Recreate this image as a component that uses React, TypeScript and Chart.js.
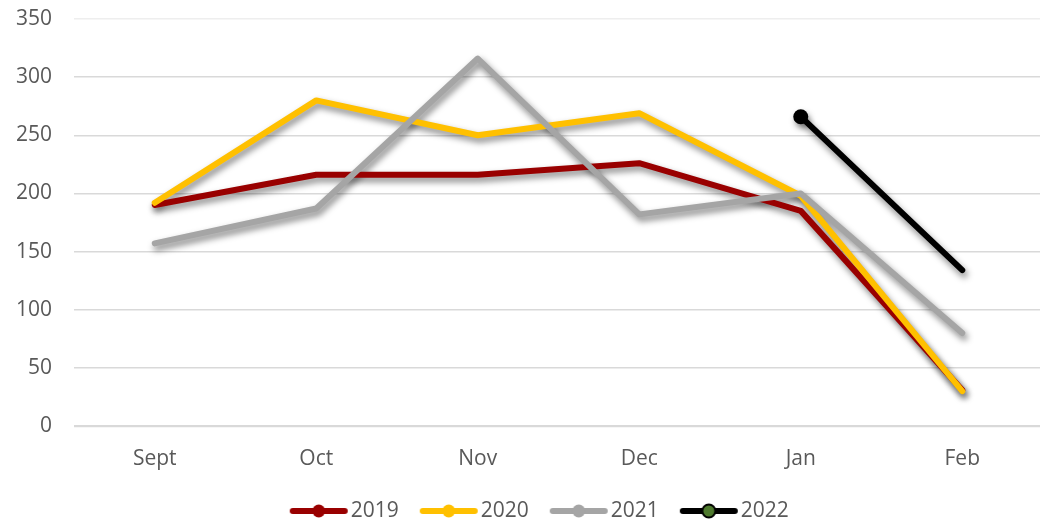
import React, { useEffect, useRef } from "react";
import { Chart, registerables } from "chart.js";

Chart.register(...registerables);

const categories = ["Sept", "Oct", "Nov", "Dec", "Jan", "Feb"];
const series2019 = [190, 216, 216, 226, 185, 31];
const series2020 = [192, 280, 250, 269, 198, 30];
const series2021 = [157, 187, 316, 182, 200, 80];
const series2022 = [null, null, null, null, 266, 134];
const seriesLabels = ["2019", "2020", "2021", "2022"];
const seriesColors = ["#990000", "#FFC000", "#A5A5A5", "#000000"];
const legendMarkerFill = ["#990000", "#FFC000", "#A5A5A5", "#4E7A2E"];
const yMin = 0;
const yMax = 350;
const yStep = 50;

const FONT = "'Open Sans', sans-serif";
const TEXT = "#595959";
const FS = 21;
const LINE_W = 6;

// target layout (canvas is offset 12px to the right inside the page)
const CANVAS_X = 12;
const AREA_TOP = 19;
const AREA_BOTTOM = 426;
const LEGEND_CENTER = 511;
const AXIS_W = 74 - CANVAS_X;
const BOX_W = 71;
const IMG_W = BOX_W + 17;

function makeLegendImage(color: string, fill: string, border: boolean) {
  const c = document.createElement("canvas");
  c.width = IMG_W;
  c.height = 18;
  const x = c.getContext("2d")!;
  const cap = LINE_W / 2;
  const outerEnd = IMG_W - 1;
  const x1 = outerEnd - cap;
  const x0 = outerEnd - 58 + cap;
  x.strokeStyle = color;
  x.lineWidth = LINE_W;
  x.lineCap = "round";
  x.beginPath();
  x.moveTo(x0, 9);
  x.lineTo(x1, 9);
  x.stroke();
  x.beginPath();
  x.arc((x0 + x1) / 2, 9, 6.5, 0, Math.PI * 2);
  x.fillStyle = fill;
  x.fill();
  if (border) {
    x.lineWidth = 2;
    x.strokeStyle = color;
    x.stroke();
  }
  return c;
}

// soft drop shadow under each line, built from the library's own point positions
const shadowPlugin = {
  id: "lineShadow",
  beforeDatasetsDraw(chart: any) {
    const ctx = chart.ctx;
    ctx.save();
    ctx.filter = "blur(3px)";
    ctx.strokeStyle = "rgba(0,0,0,0.42)";
    ctx.fillStyle = "rgba(0,0,0,0.42)";
    ctx.lineWidth = 7;
    ctx.lineCap = "round";
    ctx.lineJoin = "round";
    chart.data.datasets.forEach((ds: any, i: number) => {
      const meta = chart.getDatasetMeta(i);
      if (!meta || meta.hidden) return;
      ctx.beginPath();
      let started = false;
      meta.data.forEach((p: any) => {
        if (!p || p.skip || p.y == null || isNaN(p.y)) {
          started = false;
          return;
        }
        if (!started) {
          ctx.moveTo(p.x + 2, p.y + 4);
          started = true;
        } else {
          ctx.lineTo(p.x + 2, p.y + 4);
        }
      });
      ctx.stroke();
      meta.data.forEach((p: any) => {
        const r = p && p.options ? p.options.radius : 0;
        if (p && !p.skip && r > 0) {
          ctx.beginPath();
          ctx.arc(p.x + 2, p.y + 4, r, 0, Math.PI * 2);
          ctx.fill();
        }
      });
    });
    ctx.restore();
  },
};

export default function App() {
  const ref = useRef<HTMLCanvasElement | null>(null);

  useEffect(() => {
    document.body.style.margin = "0";
    const canvas = ref.current;
    if (!canvas) return;
    const imgs = seriesLabels.map((_, i) =>
      makeLegendImage(seriesColors[i], legendMarkerFill[i], i === 3)
    );
    const all = [series2019, series2020, series2021, series2022];
    const orders = [3, 2, 1, 0];
    const pad = { left: 0, right: 0, top: AREA_TOP, bottom: 10 };
    const fit = { xH: 60 };
    const chart: any = new Chart(canvas, {
      type: "line",
      data: {
        labels: categories,
        datasets: all.map((d, i) => ({
          label: seriesLabels[i],
          data: d,
          borderColor: seriesColors[i],
          backgroundColor: seriesColors[i],
          borderWidth: LINE_W,
          borderCapStyle: "round",
          borderJoinStyle: "round",
          pointRadius: i === 3 ? d.map((v, k) => (k === 4 ? 7.5 : 0)) : 0,
          pointHoverRadius: 0,
          pointBackgroundColor: seriesColors[i],
          pointBorderWidth: 0,
          tension: 0,
          spanGaps: false,
          order: orders[i],
        })) as any,
      },
      options: {
        animation: false,
        responsive: false,
        devicePixelRatio: 1,
        layout: { padding: { ...pad } },
        plugins: {
          tooltip: { enabled: false },
          legend: {
            position: "bottom",
            align: "center",
            labels: {
              usePointStyle: true,
              pointStyleWidth: BOX_W,
              padding: 0.5,
              color: TEXT,
              font: { family: FONT, size: FS },
              generateLabels: () =>
                seriesLabels.map((t, i) => ({
                  text: t,
                  fillStyle: seriesColors[i],
                  strokeStyle: seriesColors[i],
                  lineWidth: 0,
                  pointStyle: imgs[i],
                  hidden: false,
                  datasetIndex: i,
                  fontColor: TEXT,
                })),
            },
          },
        },
        scales: {
          x: {
            offset: true,
            grid: { display: false },
            border: { display: false },
            afterFit: (s: any) => {
              s.height = fit.xH;
            },
            ticks: {
              color: TEXT,
              padding: 12,
              font: { family: FONT, size: FS },
            },
          },
          y: {
            min: yMin,
            max: yMax,
            border: { display: false },
            afterFit: (s: any) => {
              s.width = AXIS_W;
              s.paddingTop = 0;
              s.paddingBottom = 0;
            },
            grid: {
              color: (c: any) => (c.tick && c.tick.value === yMax ? "#EEEEEE" : "#D9D9D9"),
              lineWidth: (c: any) => (c.tick && c.tick.value === 0 ? 2.25 : 1.5),
              drawTicks: false,
            },
            ticks: {
              stepSize: yStep,
              color: TEXT,
              padding: 22,
              font: { family: FONT, size: FS },
            },
          },
        },
      },
      plugins: [shadowPlugin],
    });
    // nudge layout so plot area and legend land where the reference has them
    for (let k = 0; k < 4; k++) {
      const a = chart.chartArea;
      const hb = chart.legend && chart.legend.legendHitBoxes && chart.legend.legendHitBoxes[0];
      const lc = hb ? hb.top + hb.height / 2 : LEGEND_CENTER;
      const dt = a.top - AREA_TOP;
      const e1 = LEGEND_CENTER - lc;
      const e2 = AREA_BOTTOM - a.bottom;
      if (Math.abs(dt) < 0.5 && Math.abs(e1) < 0.5 && Math.abs(e2) < 0.5) break;
      pad.top -= dt;
      pad.bottom = Math.max(0, pad.bottom - e1);
      fit.xH += e1 - e2;
      chart.options.layout.padding = { ...pad };
      chart.update();
    }
    return () => chart.destroy();
  }, []);

  return (
    <div style={{ width: 1040, height: 524, overflow: "hidden", background: "#fff" }}>
      <canvas
        ref={ref}
        width={1046 - CANVAS_X}
        height={560}
        style={{ display: "block", marginLeft: CANVAS_X }}
      />
    </div>
  );
}
